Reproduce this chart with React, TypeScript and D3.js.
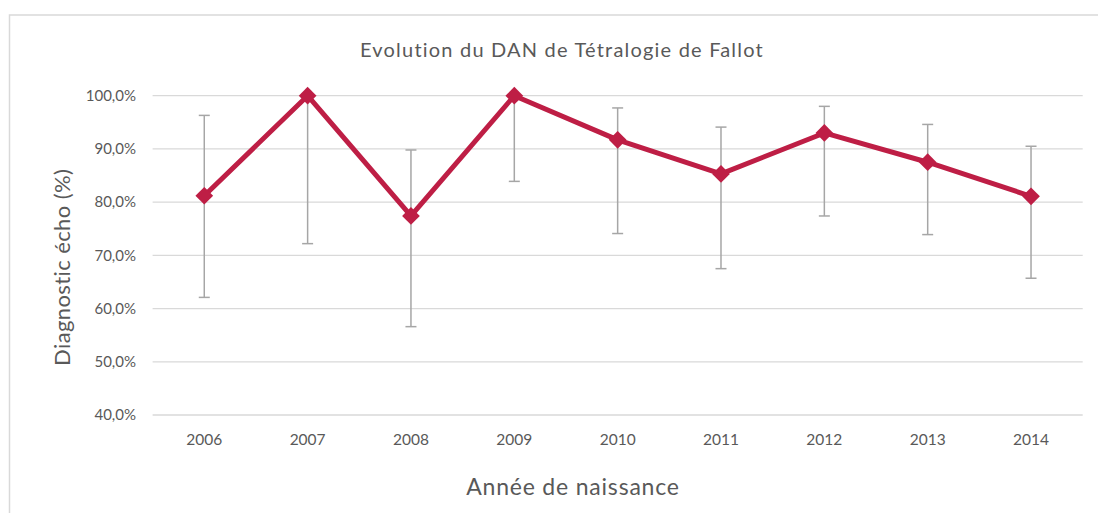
import React, { useEffect, useRef } from "react";
import * as d3 from "d3";

const years = ["2006", "2007", "2008", "2009", "2010", "2011", "2012", "2013", "2014"];
const values = [81.2, 100, 77.4, 100, 91.7, 85.3, 93.0, 87.5, 81.1];
const upper = [96.3, 100, 89.8, 100, 97.7, 94.1, 98.0, 94.6, 90.5];
const lower = [62.1, 72.2, 56.6, 83.9, 74.1, 67.5, 77.4, 73.9, 65.7];
const yTicks = [40, 50, 60, 70, 80, 90, 100];

const width = 1098;
const height = 513;
const font = "Lato, 'Open Sans', sans-serif";
const textColor = "#595959";
const lineColor = "#BE1E45";

const App: React.FC = () => {
  const svgRef = useRef<SVGSVGElement | null>(null);

  useEffect(() => {
    if (!svgRef.current) return;
    const svg = d3.select(svgRef.current);
    svg.selectAll("*").remove();

    const left = 152.6;
    const right = 1082.7;
    const top = 95.7;
    const bottom = 415;

    const x = d3.scaleBand<string>().domain(years).range([left, right]);
    const y = d3.scaleLinear().domain([40, 100]).range([bottom, top]);
    const cx = (d: string) => (x(d) ?? 0) + x.bandwidth() / 2;

    // chart border
    svg
      .append("rect")
      .attr("x", 9.5)
      .attr("y", 15)
      .attr("width", width + 10)
      .attr("height", height + 10)
      .attr("fill", "none")
      .attr("stroke", "#d9d9d9")
      .attr("stroke-width", 1.5);

    svg
      .append("text")
      .attr("x", 562)
      .attr("y", 57)
      .attr("text-anchor", "middle")
      .attr("font-family", font)
      .attr("font-size", 20)
      .attr("letter-spacing", 1.2)
      .attr("fill", textColor)
      .text("Evolution du DAN de Tétralogie de Fallot");

    // gridlines
    svg
      .append("g")
      .selectAll("line")
      .data(yTicks)
      .enter()
      .append("line")
      .attr("x1", left)
      .attr("x2", right)
      .attr("y1", (d) => y(d))
      .attr("y2", (d) => y(d))
      .attr("stroke", "#d9d9d9")
      .attr("stroke-width", 1.3);

    svg
      .append("g")
      .selectAll("text")
      .data(yTicks)
      .enter()
      .append("text")
      .attr("x", 136)
      .attr("y", (d) => y(d))
      .attr("dy", "0.35em")
      .attr("text-anchor", "end")
      .attr("font-family", font)
      .attr("font-size", 15)
      .attr("fill", textColor)
      .text((d) => d3.format(".1f")(d).replace(".", ",") + "%");

    svg
      .append("g")
      .selectAll("text")
      .data(years)
      .enter()
      .append("text")
      .attr("x", (d) => cx(d))
      .attr("y", 445)
      .attr("text-anchor", "middle")
      .attr("font-family", font)
      .attr("font-size", 15.5)
      .attr("fill", textColor)
      .text((d) => d);

    svg
      .append("text")
      .attr("x", 573)
      .attr("y", 495)
      .attr("text-anchor", "middle")
      .attr("font-family", font)
      .attr("font-size", 23)
      .attr("letter-spacing", 0.8)
      .attr("fill", textColor)
      .text("Année de naissance");

    svg
      .append("text")
      .attr("transform", `translate(70,${(top + bottom) / 2 + 12}) rotate(-90)`)
      .attr("text-anchor", "middle")
      .attr("font-family", font)
      .attr("font-size", 22)
      .attr("letter-spacing", 0.4)
      .attr("fill", textColor)
      .text("Diagnostic écho (%)");

    // error bars
    const err = svg.append("g").attr("stroke", "#a6a6a6").attr("stroke-width", 1.5);
    years.forEach((yr, i) => {
      const px = cx(yr);
      err.append("line").attr("x1", px).attr("x2", px).attr("y1", y(upper[i])).attr("y2", y(lower[i]));
      if (upper[i] > values[i]) {
        err.append("line").attr("x1", px - 5.5).attr("x2", px + 5.5).attr("y1", y(upper[i])).attr("y2", y(upper[i]));
      }
      err.append("line").attr("x1", px - 5.5).attr("x2", px + 5.5).attr("y1", y(lower[i])).attr("y2", y(lower[i]));
    });

    const line = d3
      .line<number>()
      .x((_, i) => cx(years[i]))
      .y((d) => y(d));

    svg
      .append("path")
      .datum(values)
      .attr("d", line)
      .attr("fill", "none")
      .attr("stroke", lineColor)
      .attr("stroke-width", 5)
      .attr("stroke-linejoin", "round");

    const diamond = d3.symbol().type(d3.symbolDiamond2).size(200);
    svg
      .append("g")
      .selectAll("path")
      .data(values)
      .enter()
      .append("path")
      .attr("d", diamond)
      .attr("transform", (d, i) => `translate(${cx(years[i])},${y(d)})`)
      .attr("fill", lineColor);
  }, []);

  return (
    <div style={{ position: "absolute", left: 0, top: 0 }}>
      <svg ref={svgRef} width={width} height={height} style={{ display: "block", background: "#fff" }}></svg>
    </div>
  );
};

export default App;
